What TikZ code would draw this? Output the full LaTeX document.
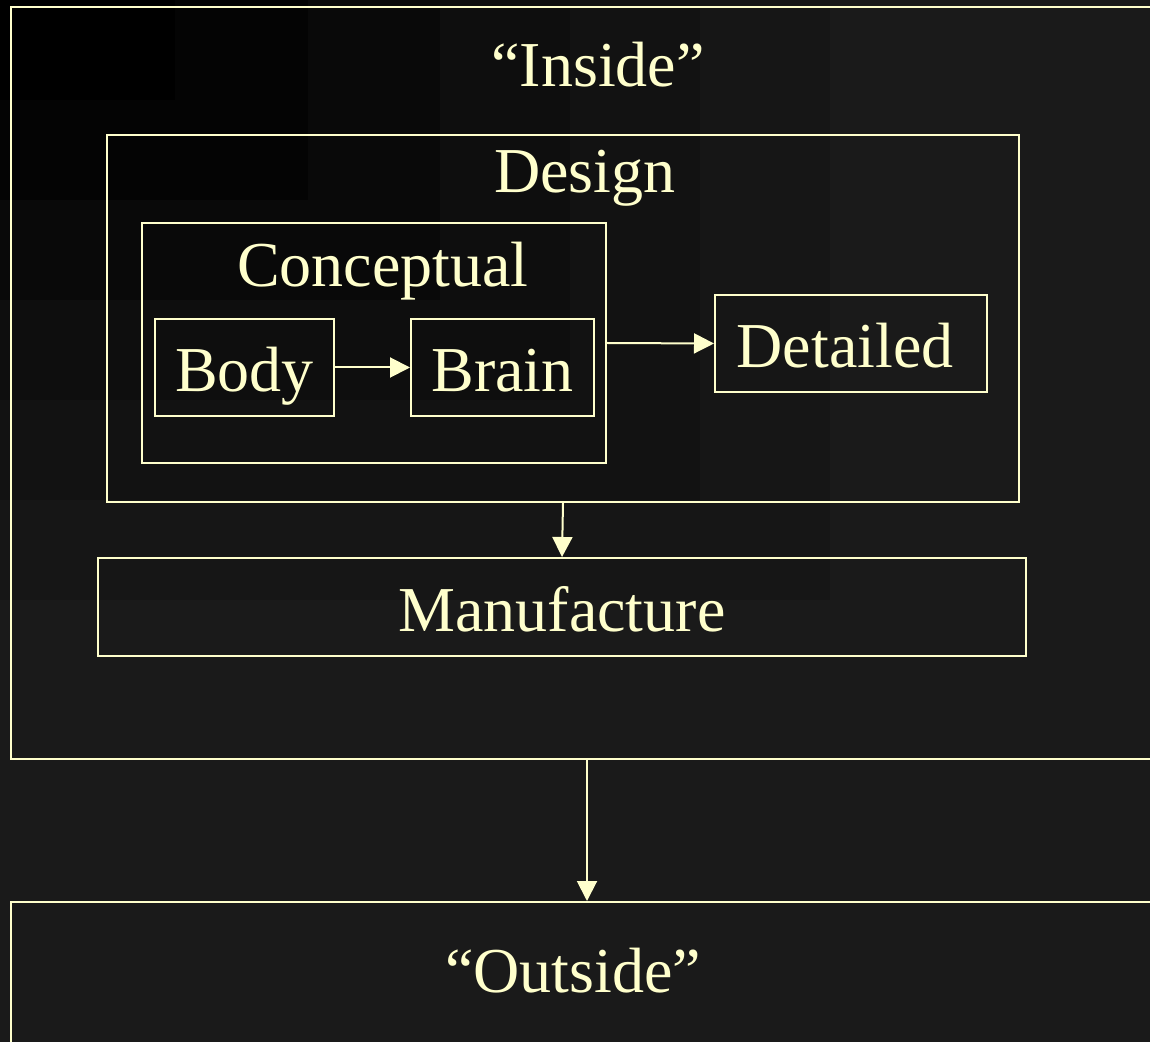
\documentclass[tikz,border=0pt]{standalone}
\usepackage{fontspec}
\setmainfont{Liberation Serif}
\usetikzlibrary{arrows.meta,backgrounds}
\definecolor{cream}{HTML}{FFFFCC}
\definecolor{slate}{HTML}{1A1A1A}
\definecolor{shadeA}{HTML}{161616}
\definecolor{shadeB}{HTML}{121212}
\definecolor{shadeC}{HTML}{0E0E0E}
\definecolor{shadeD}{HTML}{090909}
\definecolor{shadeE}{HTML}{040404}
\definecolor{shadeF}{HTML}{000000}

\begin{document}
\begin{tikzpicture}
    [x=0.5pt,y=-0.5pt,
    box/.style={draw=cream, line width=1pt, rectangle},
    word/.style={text=cream, font=\fontsize{32}{38}\selectfont},
    labelbox/.style={box, word, text height=24pt, text depth=0pt},
    flow/.style={draw=cream, line width=1pt, -{Triangle[length=10pt,width=10pt]}}]
    \useasboundingbox (0,0) rectangle (1150,1042);
    % Background with darker top-left corner
    \fill[slate] (0,0) rectangle (1150,1042);
    \fill[shadeA] (0,0) rectangle (830,600);
    \fill[shadeB] (0,0) rectangle (700,500);
    \fill[shadeC] (0,0) rectangle (570,400);
    \fill[shadeD] (0,0) rectangle (440,300);
    \fill[shadeE] (0,0) rectangle (308,200);
    \fill[shadeF] (0,0) rectangle (175,100);

    % Inside
    \node [box,
        minimum width=576pt,
        minimum height=376pt]
        (inside) at (587,383) {};
    \node [word, anchor=base] (insidetext) at (598,87) {“Inside”};

    % Design
    \node [box,
        minimum width=456pt,
        minimum height=183.5pt]
        (design) at (563,318.5) {};
    \node [word, anchor=base] (designtext) at (585,193) {Design};

    % Conceptual
    \node [box,
        minimum width=232pt,
        minimum height=120pt]
        (concept) at (374,343) {};
    \node [word, anchor=base] (concepttext) at (383,287) {Conceptual};

    % Body and Brain
    \node [labelbox,
        minimum width=89.5pt,
        minimum height=48.5pt]
        (body) at (244.5,367.5) {Body};
    \node [labelbox,
        minimum width=91.5pt,
        minimum height=48.5pt]
        (brain) at (502.5,367.5) {Brain};

    % Detailed
    \node [labelbox,
        minimum width=136pt,
        minimum height=48.5pt]
        (detailed) at (851,343.5) {Detailed\kern6pt};

    % Manufacture
    \node [labelbox,
        minimum width=464pt,
        minimum height=49pt]
        (manuf) at (562,607) {Manufacture};

    % Outside
    \node [box,
        minimum width=576pt,
        minimum height=79pt]
        (outside) at (587,981) {};
    \node [word, anchor=base] (outsidetext) at (573,992) {“Outside”};

    % Arrows
    \draw [flow] (body) -- (brain);
    \draw [flow] (concept.east) -- (detailed.west);
    \draw [flow] (design.south) -- (manuf.north);
    \draw [flow] (inside.south) -- (outside.north);
\end{tikzpicture}
\end{document}
